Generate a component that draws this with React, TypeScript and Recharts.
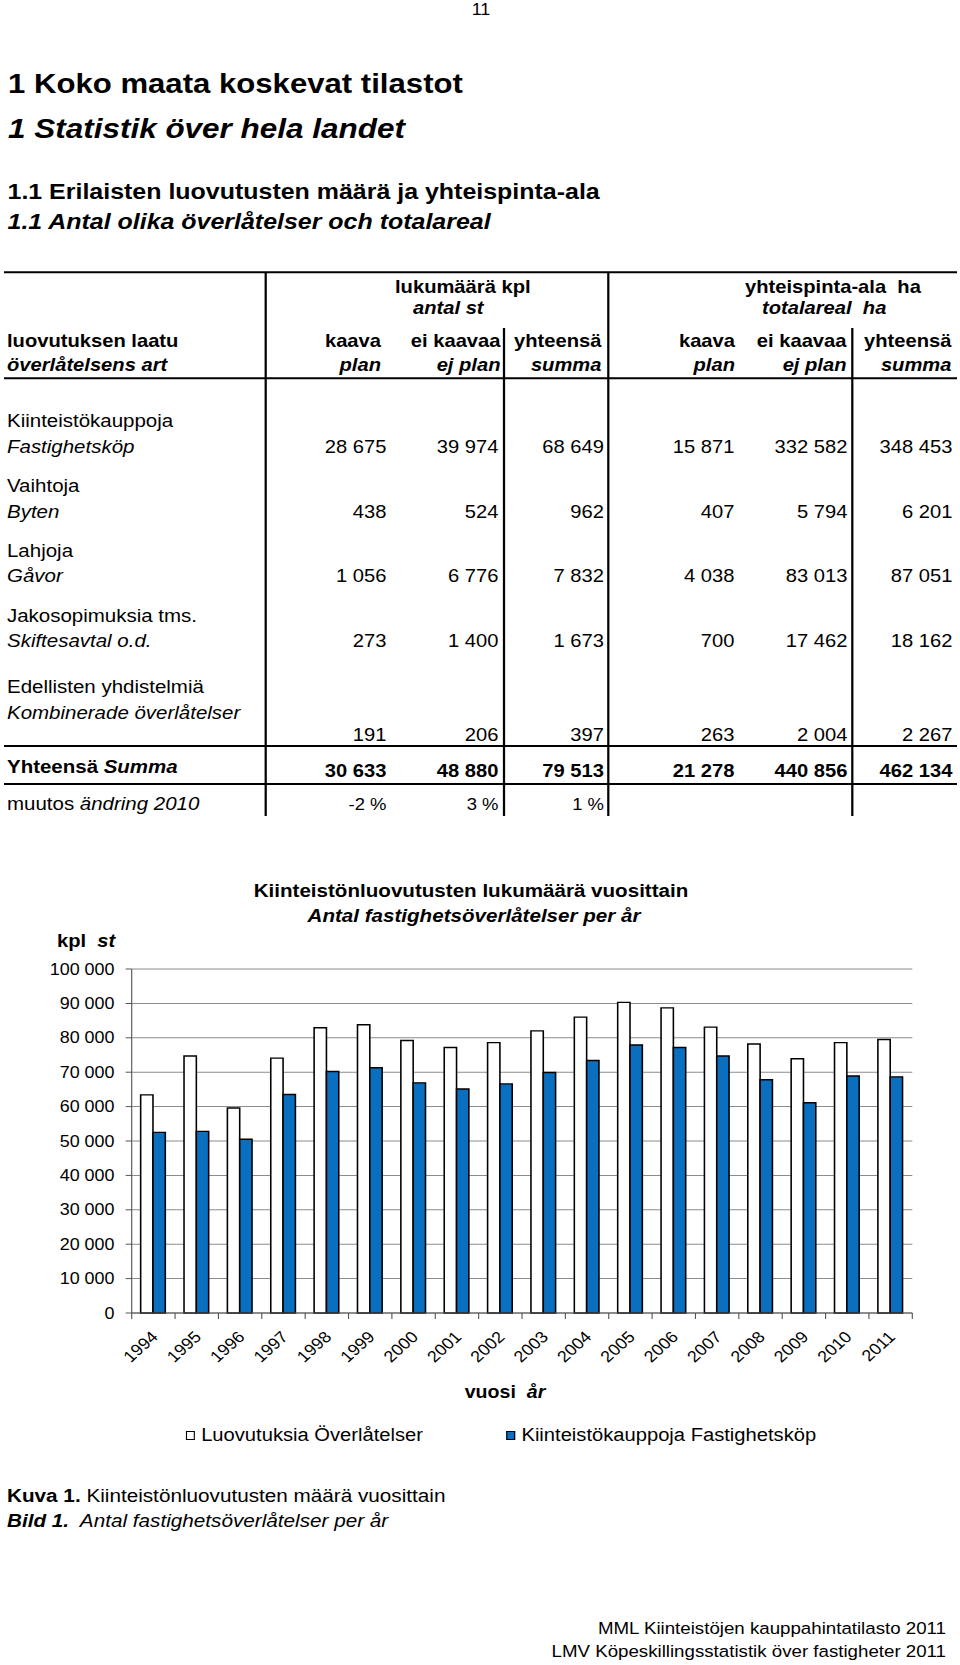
import React from "react";
import {
  BarChart,
  Bar,
  XAxis,
  YAxis,
  CartesianGrid,
  Legend
} from "recharts";

// table data
const rowLabelsFi = ["Kiinteistökauppoja", "Vaihtoja", "Lahjoja", "Jakosopimuksia tms.", "Edellisten yhdistelmiä"];
const rowLabelsSv = ["Fastighetsköp", "Byten", "Gåvor", "Skiftesavtal o.d.", "Kombinerade överlåtelser"];
const countPlan = [28675, 438, 1056, 273, 191];
const countNoPlan = [39974, 524, 6776, 1400, 206];
const countTotal = [68649, 962, 7832, 1673, 397];
const areaPlan = [15871, 407, 4038, 700, 263];
const areaNoPlan = [332582, 5794, 83013, 17462, 2004];
const areaTotal = [348453, 6201, 87051, 18162, 2267];
const sumRow = [30633, 48880, 79513, 21278, 440856, 462134];
const changeRow = ["-2 %", "3 %", "1 %"];
const colHeadFi = ["kaava", "ei kaavaa", "yhteensä", "kaava", "ei kaavaa", "yhteensä"];
const colHeadSv = ["plan", "ej plan", "summa", "plan", "ej plan", "summa"];

// chart data
const years = ["1994", "1995", "1996", "1997", "1998", "1999", "2000", "2001", "2002",
  "2003", "2004", "2005", "2006", "2007", "2008", "2009", "2010", "2011"];
const transfers = [63400, 74700, 59600, 74100, 82900, 83800, 79200, 77200, 78600,
  82000, 86000, 90300, 88700, 83100, 78200, 73900, 78600, 79513];
const sales = [52500, 52800, 50500, 63500, 70200, 71300, 66900, 65100, 66600,
  69900, 73400, 77900, 77200, 74700, 67800, 61100, 68900, 68649];
const yTicks = [0, 10000, 20000, 30000, 40000, 50000, 60000, 70000, 80000, 90000, 100000];

const chartData = years.map((year, i) => ({year, transfers: transfers[i], sales: sales[i]}));

const series = [
  {key: "transfers", name: "Luovutuksia Överlåtelser", fill: "#ffffff"},
  {key: "sales", name: "Kiinteistökauppoja Fastighetsköp", fill: "#0b6fc0"}
];

// the page is drawn horizontally stretched, like the scanned original
const SX = 1.12;
const PAGE_W = 960 / SX;
const sx = (v: number) => v / SX;
const FONT = '"Liberation Sans", Arial, Helvetica, sans-serif';
const GRID = "#8c8c8c";
const AXIS = "#555555";

const CHART_TOP = 860;
const CHART_H = 600;
const Y_W = 60;
const PLOT_L = sx(131.7);
const PLOT_R = sx(912.3);
const BAND = (PLOT_R - PLOT_L) / years.length;
const margin = {top: 969 - CHART_TOP, right: PAGE_W - PLOT_R, left: PLOT_L - Y_W, bottom: 0};

// layout of the table (page coordinates)
const rowFiY = [426.7, 491.7, 556.7, 621.7, 693.3];
const rowSvY = [452.7, 517.7, 582.3, 646.7, 719];
const rowNumY = [452.7, 517.7, 582.3, 646.7, 740.7];
const headRight = [381, 500.5, 601.5, 735, 846.5, 951.5];
const numRight = [386.5, 498.5, 604, 734.5, 847.5, 952.5];
const legendX = [185.5, 505.8];

const fmt = (n: number) => String(n).replace(/\B(?=(\d{3})+(?!\d))/g, " ");

const YearTick = (props: any) => {
  const {x, y, payload, index} = props;
  const half = BAND / 2;
  return (
    <g>
      <line x1={x - half} x2={x - half} y1={y} y2={y + 6} stroke={AXIS}/>
      {index === years.length - 1 && <line x1={x + half} x2={x + half} y1={y} y2={y + 6} stroke={AXIS}/>}
      <text x={x + 5} y={y + 25} transform={`rotate(-45 ${x + 5} ${y + 25})`} textAnchor="end"
            fontSize={16} fill="#000" fontFamily={FONT}>{payload.value}</text>
    </g>
  );
};

const LegendContent = (props: any) => {
  const payload = props.payload || [];
  return (
    <div style={{position: "relative", width: PAGE_W, height: 40}}>
      {series.map((s, i) => {
        const item = payload.find((p: any) => p.dataKey === s.key);
        return (
          <div key={s.key} style={{position: "absolute", left: sx(legendX[i]), top: 5, height: 20,
            display: "flex", alignItems: "center", fontFamily: FONT, fontSize: 18, color: "#000"}}>
            <span style={{display: "inline-block", width: sx(9.5), height: 9, boxSizing: "border-box",
              border: "1.5px solid #000", background: s.fill, marginRight: 5.5}}/>
            {item ? item.value : s.name}
          </div>
        );
      })}
    </div>
  );
};

const T = (p: any) => <text fontFamily={FONT} fill="#000" style={{whiteSpace: "pre"}} {...p}/>;

const App = () => {
  const cols = [countPlan, countNoPlan, countTotal, areaPlan, areaNoPlan, areaTotal];
  return (
    <div style={{position: "absolute", left: 0, top: 0, width: 960, height: 1665, overflow: "hidden", background: "#fff"}}>
      <div style={{position: "relative", width: PAGE_W, height: 1665, transform: `scaleX(${SX})`, transformOrigin: "0 0"}}>
        <svg width={PAGE_W} height={1665} style={{position: "absolute", left: 0, top: 0}}>
          <T x={sx(481)} y={15.5} fontSize={16} textAnchor="middle">11</T>
          <T x={sx(8)} y={93} fontSize={27.8} fontWeight="bold">1 Koko maata koskevat tilastot</T>
          <T x={sx(8)} y={138} fontSize={28.1} fontWeight="bold" fontStyle="italic">1 Statistik över hela landet</T>
          <T x={sx(7.5)} y={199} fontSize={22.3} fontWeight="bold">1.1 Erilaisten luovutusten määrä ja yhteispinta-ala</T>
          <T x={sx(7.5)} y={229.5} fontSize={22.3} fontWeight="bold" fontStyle="italic">1.1 Antal olika överlåtelser och totalareal</T>

          {/* table lines */}
          {[272.3, 378.3, 746, 784].map((y) => (
            <line key={y} x1={sx(4)} x2={sx(957)} y1={y} y2={y} stroke="#000" strokeWidth={2}/>
          ))}
          <line x1={sx(265.7)} x2={sx(265.7)} y1={272} y2={816} stroke="#000" strokeWidth={2}/>
          <line x1={sx(608.3)} x2={sx(608.3)} y1={272} y2={816} stroke="#000" strokeWidth={2}/>
          <line x1={sx(504)} x2={sx(504)} y1={328} y2={816} stroke="#000" strokeWidth={2}/>
          <line x1={sx(852.3)} x2={sx(852.3)} y1={328} y2={816} stroke="#000" strokeWidth={2}/>

          {/* table header */}
          <T x={sx(395)} y={293} fontSize={18} fontWeight="bold">lukumäärä kpl</T>
          <T x={sx(413)} y={314} fontSize={18} fontWeight="bold" fontStyle="italic">antal st</T>
          <T x={sx(745)} y={293} fontSize={18} fontWeight="bold">yhteispinta-ala  ha</T>
          <T x={sx(762)} y={314} fontSize={18} fontWeight="bold" fontStyle="italic">totalareal  ha</T>
          <T x={sx(7)} y={347} fontSize={18} fontWeight="bold">luovutuksen laatu</T>
          <T x={sx(7)} y={371} fontSize={18} fontWeight="bold" fontStyle="italic">överlåtelsens art</T>
          {colHeadFi.map((h, i) => (
            <T key={"hf" + i} x={sx(headRight[i])} y={347} fontSize={18} fontWeight="bold" textAnchor="end">{h}</T>
          ))}
          {colHeadSv.map((h, i) => (
            <T key={"hs" + i} x={sx(headRight[i])} y={371} fontSize={18} fontWeight="bold" fontStyle="italic" textAnchor="end">{h}</T>
          ))}

          {/* table body */}
          {rowLabelsFi.map((l, r) => (
            <g key={"r" + r}>
              <T x={sx(7)} y={rowFiY[r]} fontSize={18.3}>{l}</T>
              <T x={sx(7)} y={rowSvY[r]} fontSize={18.3} fontStyle="italic">{rowLabelsSv[r]}</T>
              {cols.map((c, j) => (
                <T key={j} x={sx(numRight[j])} y={rowNumY[r]} fontSize={18} textAnchor="end">{fmt(c[r])}</T>
              ))}
            </g>
          ))}
          <T x={sx(7)} y={772.7} fontSize={18.3} fontWeight="bold">Yhteensä <tspan fontStyle="italic">Summa</tspan></T>
          {sumRow.map((v, j) => (
            <T key={"s" + j} x={sx(numRight[j])} y={776.7} fontSize={18} fontWeight="bold" textAnchor="end">{fmt(v)}</T>
          ))}
          <T x={sx(7)} y={810} fontSize={18.3}>muutos <tspan fontStyle="italic">ändring 2010</tspan></T>
          {changeRow.map((v, j) => (
            <T key={"c" + j} x={sx(numRight[j])} y={810.5} fontSize={16.5} textAnchor="end">{v}</T>
          ))}

          {/* chart texts */}
          <T x={sx(471)} y={896.7} fontSize={18.4} fontWeight="bold" textAnchor="middle">Kiinteistönluovutusten lukumäärä vuosittain</T>
          <T x={sx(474)} y={921.7} fontSize={18.4} fontWeight="bold" fontStyle="italic" textAnchor="middle">Antal fastighetsöverlåtelser per år</T>
          <T x={sx(57)} y={947} fontSize={18} fontWeight="bold">kpl  <tspan fontStyle="italic">st</tspan></T>
          <T x={sx(505)} y={1398} fontSize={17.5} fontWeight="bold" textAnchor="middle">vuosi  <tspan fontStyle="italic">år</tspan></T>

          {/* caption and source */}
          <T x={sx(7)} y={1502.5} fontSize={18.5}><tspan fontWeight="bold">Kuva 1.</tspan> Kiinteistönluovutusten määrä vuosittain</T>
          <T x={sx(7)} y={1527} fontSize={18.5} fontStyle="italic"><tspan fontWeight="bold">Bild 1.</tspan>  Antal fastighetsöverlåtelser per år</T>
          <T x={sx(946)} y={1634} fontSize={16.7} textAnchor="end">MML Kiinteistöjen kauppahintatilasto 2011</T>
          <T x={sx(946)} y={1657} fontSize={16.7} textAnchor="end">LMV Köpeskillingsstatistik över fastigheter 2011</T>
        </svg>

        <div style={{position: "absolute", left: 0, top: CHART_TOP}}>
          <BarChart width={PAGE_W} height={CHART_H} data={chartData} margin={margin}
                    barCategoryGap={8} barGap={0}>
            <CartesianGrid yAxisId="left" vertical={false} stroke={GRID}/>
            <XAxis dataKey="year" height={107} interval={0} tickLine={false} tickSize={0} tickMargin={0}
                   axisLine={{stroke: AXIS}} tick={(p: any) => <YearTick {...p}/>}/>
            <YAxis yAxisId="left" width={Y_W} domain={[0, 100000]} ticks={yTicks} interval={0}
                   tickFormatter={fmt} tickSize={5.4} tickMargin={10}
                   axisLine={{stroke: AXIS}} tickLine={{stroke: AXIS}}
                   tick={{fontSize: 16, fill: "#000", fontFamily: FONT}}/>
            <YAxis yAxisId="right" orientation="right" width={0} domain={[0, 100000]}
                   tick={false} tickLine={false} axisLine={{stroke: GRID}}/>
            {series.map((s) => (
              <Bar key={s.key} yAxisId="left" dataKey={s.key} name={s.name} fill={s.fill}
                   stroke="#000" strokeWidth={1.4} isAnimationActive={false}/>
            ))}
            <Legend verticalAlign="bottom" itemSorter={null as any} content={(p: any) => <LegendContent {...p}/>}
                    wrapperStyle={{left: 0, bottom: 0, width: PAGE_W, height: 40}}/>
          </BarChart>
        </div>
      </div>
    </div>
  );
};

export default App;
